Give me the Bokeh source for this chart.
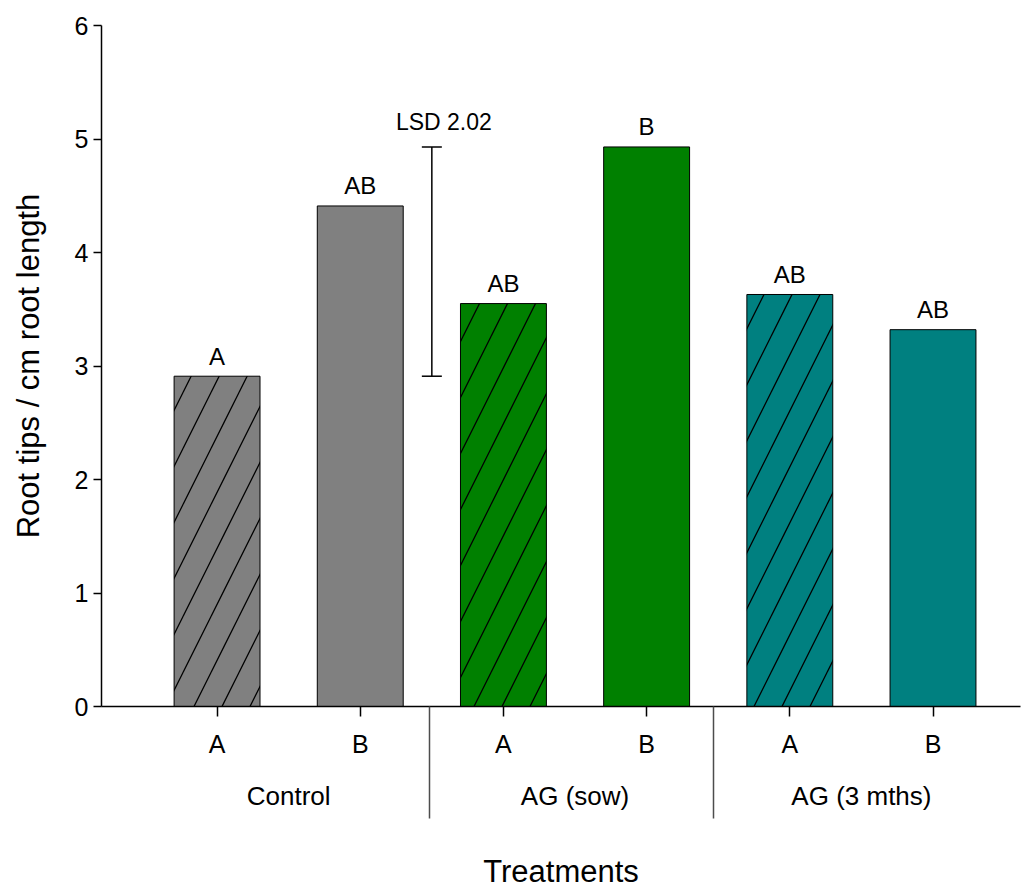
from bokeh.plotting import figure
from bokeh.models import (ColumnDataSource, FixedTicker, LinearAxis, Whisker,
                          TeeHead, Range1d)
from bokeh.embed import file_html
from bokeh.resources import INLINE
from bokeh.core.properties import value

# ---- data ----
groups = ["Control", "AG (sow)", "AG (3 mths)"]
subcats = ["A", "B", "A", "B", "A", "B"]
values = [2.91, 4.41, 3.55, 4.93, 3.63, 3.32]
letters = ["A", "AB", "AB", "B", "AB", "AB"]
colors = ["#808080", "#808080", "#008000", "#008000", "#008080", "#008080"]
hatched = [True, False, True, False, True, False]
lsd_value = 2.02
lsd_lower = 2.91

xpos = list(range(1, len(values) + 1))
group_centers = [2 * i + 1.5 for i in range(len(groups))]
FONT = "Liberation Sans"

p = figure(width=1030, height=891, output_backend="svg", toolbar_location=None,
           x_range=Range1d(0.193, 6.611), y_range=Range1d(0, 6),
           min_border_left=101, min_border_top=25, min_border_right=10,
           min_border_bottom=185)
p.outline_line_color = None
p.xgrid.visible = False
p.ygrid.visible = False

src = ColumnDataSource(dict(
    x=xpos, top=values, color=colors, letters=letters,
    hatch=["right_diagonal_line" if h else " " for h in hatched]))

p.vbar(x="x", top="top", bottom=0, width=0.6, source=src, fill_color="color",
       line_color="black", line_width=1, hatch_pattern="hatch",
       hatch_color="black", hatch_scale=56, hatch_weight=1.3)

p.text(x="x", y="top", text="letters", source=src, text_align="center",
       text_baseline="alphabetic", y_offset=-20, text_font=value(FONT),
       text_font_size="24px", text_color="black")

# LSD bar
lsd_x = 2.5
p.add_layout(Whisker(base=lsd_x, lower=lsd_lower, upper=lsd_lower + lsd_value,
                     dimension="height", line_color="black", line_width=1.5,
                     upper_head=TeeHead(size=20, line_color="black", line_width=1.5),
                     lower_head=TeeHead(size=20, line_color="black", line_width=1.5)))
p.text(x=[lsd_x], y=[lsd_lower + lsd_value], text=[f"LSD {lsd_value:.2f}"],
       text_align="center", text_baseline="alphabetic", x_offset=12, y_offset=-25,
       text_font=value(FONT), text_font_size="23px", text_color="black")

# axes
p.yaxis.ticker = FixedTicker(ticks=[0, 1, 2, 3, 4, 5, 6])
p.yaxis.axis_label = "Root tips / cm root length"
# sub-category axis; minor ticks serve as group separators
p.xaxis.ticker = FixedTicker(ticks=xpos, minor_ticks=[2.486, 4.465])
p.xaxis.major_label_overrides = {x: s for x, s in zip(xpos, subcats)}

gax = LinearAxis(ticker=FixedTicker(ticks=group_centers),
                 major_label_overrides={c: g for c, g in zip(group_centers, groups)},
                 axis_label="Treatments")
p.add_layout(gax, "below")

for ax in (p.xaxis[0], p.yaxis[0], gax):
    ax.axis_line_color = "black"
    ax.axis_line_width = 1.5
    ax.major_tick_line_color = "black"
    ax.major_tick_line_width = 1.5
    ax.major_tick_in = 0
    ax.minor_tick_line_color = None
    ax.major_label_text_font = FONT
    ax.major_label_text_font_size = "25px"
    ax.major_label_text_color = "black"
    ax.axis_label_text_font = FONT
    ax.axis_label_text_font_size = "31px"
    ax.axis_label_text_font_style = "normal"
    ax.axis_label_text_color = "black"
p.yaxis.major_tick_out = 8
p.yaxis.major_label_standoff = 5
p.yaxis.axis_label_standoff = 26

xa = p.xaxis[0]
xa.major_tick_out = 10
xa.minor_tick_line_color = "#4d4d4d"
xa.minor_tick_line_width = 1.5
xa.minor_tick_in = 0
xa.minor_tick_out = 112
xa.major_label_standoff = 13 - (112 - 10)

gax.axis_line_color = None
gax.major_tick_line_color = None
gax.major_tick_out = 0
gax.major_label_standoff = 20
gax.major_label_text_font_size = "26px"
gax.axis_label_standoff = 40

open("out.html", "w").write(file_html(p, INLINE))
